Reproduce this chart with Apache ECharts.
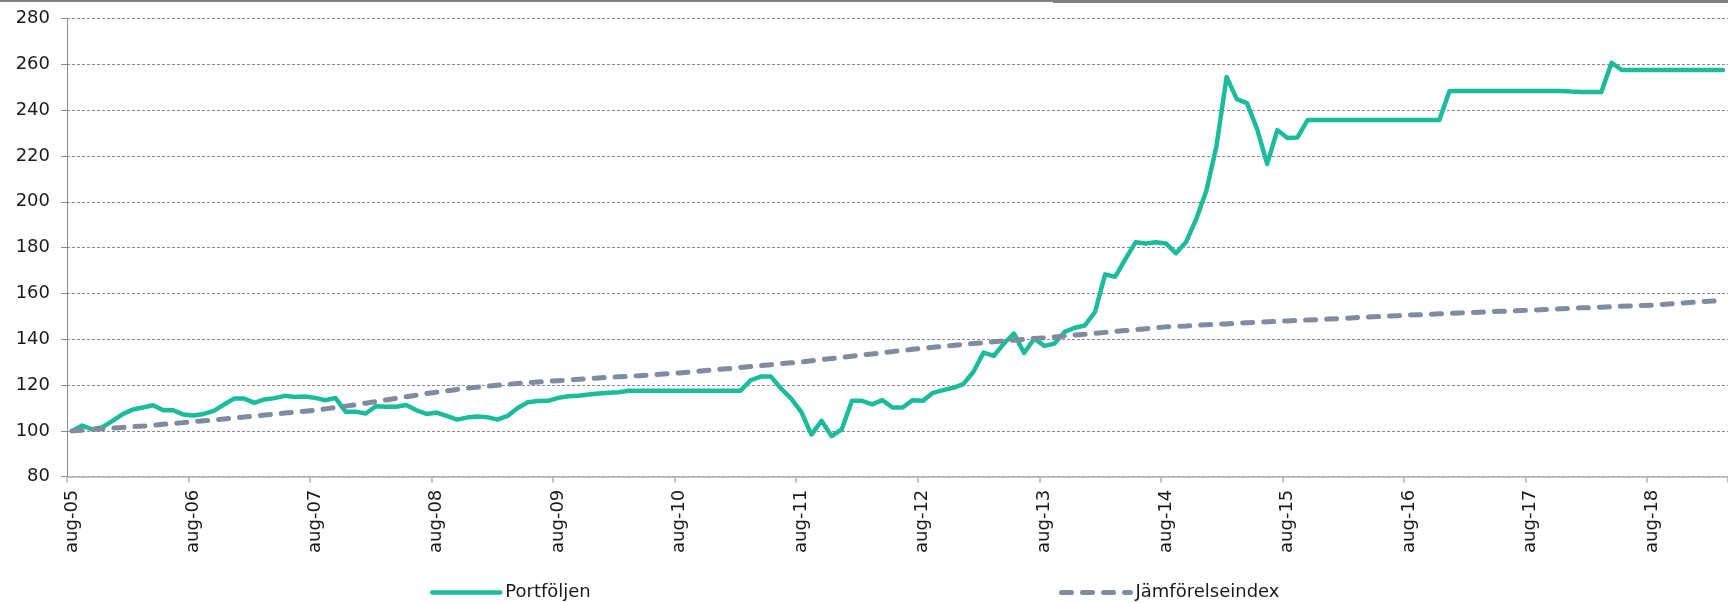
<!DOCTYPE html>
<html>
<head>
<meta charset="utf-8">
<script src="https://cdn.jsdelivr.net/npm/echarts@6/dist/echarts.min.js"></script>
<style>
html,body{margin:0;padding:0;background:#fff;}
#chart{width:1728px;height:603px;}
</style>
</head>
<body>
<div id="chart"></div>
<script>
// ---- data ----
const monthNames = ['jan','feb','mar','apr','maj','jun','jul','aug','sep','okt','nov','dec'];
const startMonth = 7;   // aug
const startYear = 2005;
const monthCount = 164; // aug-05 .. mar-19

const yTicks = [80, 100, 120, 140, 160, 180, 200, 220, 240, 260, 280];

const seriesNames = ['Portföljen', 'Jämförelseindex'];

const portfolio = [
  100.0,102.3,100.7,101.6,104.4,107.3,109.3,110.2,111.2,109.0,109.0,107.1,106.7,
  107.4,108.7,111.5,114.1,114.1,112.2,113.7,114.3,115.3,114.8,115.0,114.4,
  113.4,114.4,108.4,108.4,107.6,110.8,110.5,110.5,111.3,109.0,107.4,108.0,
  106.5,104.9,105.8,106.3,106.0,104.9,106.5,110.0,112.5,113.0,113.1,114.4,
  115.1,115.3,115.9,116.3,116.6,116.9,117.5,117.5,117.5,117.5,117.5,117.5,
  117.5,117.5,117.5,117.5,117.5,117.5,122.1,123.7,123.7,118.5,114.1,108.3,
  98.4,104.4,97.7,100.7,113.1,113.1,111.6,113.4,110.2,110.2,113.4,113.1,
  116.6,117.8,118.8,120.4,125.8,134.2,132.7,138.1,142.5,134.0,140.2,137.1,
  138.1,143.2,145.0,146.0,151.9,168.3,167.3,175.0,182.3,181.8,182.3,181.8,
  177.5,182.5,192.5,204.9,224.5,254.5,244.8,243.1,231.8,216.5,231.3,227.8,
  228.1,235.7,235.7,235.7,235.7,235.7,235.7,235.7,235.7,235.7,235.7,235.7,
  235.7,235.7,235.7,248.4,248.4,248.4,248.4,248.4,248.4,248.4,248.4,248.4,
  248.4,248.4,248.4,248.1,247.9,247.9,247.9,260.7,257.5,257.5,257.5,257.5,
  257.5,257.5,257.5,257.5,257.5,257.5,257.5
];

const benchmark = [
  100.0,100.3,100.6,100.9,101.2,101.5,101.8,102.1,102.5,102.9,103.2,103.6,104.0,
  104.4,104.8,105.2,105.6,106.1,106.5,106.9,107.3,107.8,108.2,108.6,109.0,
  109.6,110.2,110.8,111.4,112.1,112.8,113.5,114.2,114.9,115.6,116.3,116.9,
  117.5,118.1,118.6,119.1,119.5,119.9,120.3,120.7,121.0,121.3,121.6,121.9,
  122.2,122.5,122.8,123.1,123.4,123.6,123.8,124.1,124.4,124.7,125.0,125.3,
  125.7,126.1,126.5,126.9,127.3,127.7,128.1,128.5,128.9,129.3,129.7,130.1,
  130.6,131.1,131.6,132.1,132.6,133.1,133.6,134.1,134.6,135.1,135.6,136.1,
  136.5,136.9,137.3,137.7,138.1,138.5,138.9,139.3,139.6,140.0,140.3,140.6,
  141.0,141.4,141.8,142.2,142.6,143.0,143.4,143.8,144.2,144.6,145.0,145.4,
  145.6,145.8,146.1,146.3,146.5,146.7,147.0,147.2,147.4,147.6,147.8,148.0,
  148.2,148.4,148.6,148.8,149.0,149.2,149.5,149.7,149.9,150.1,150.3,150.5,
  150.7,150.9,151.1,151.3,151.5,151.6,151.8,152.0,152.2,152.3,152.5,152.7,
  152.9,153.1,153.3,153.5,153.7,153.8,154.0,154.2,154.4,154.5,154.7,154.9,
  155.2,155.5,155.8,156.1,156.4,156.7,157.0
];

// category labels (month-yy, Swedish)
const categories = [];
for (let i = 0; i < monthCount; i++) {
  const m = (startMonth + i) % 12;
  const y = startYear + Math.floor((startMonth + i) / 12);
  categories.push(monthNames[m] + '-' + String(y % 100).padStart(2, '0'));
}

// ---- chart ----
const FONT = '"DejaVu Sans", Verdana, sans-serif';
const GREEN = '#1ABC9C';
const SLATE = '#7F8BA0';
const DASH = [10, 11];
const chart = echarts.init(document.getElementById('chart'), null, {renderer: 'canvas'});

const option = {
  animation: false,
  backgroundColor: '#ffffff',
  textStyle: {fontFamily: FONT},
  grid: {left: 67, top: 18.5, bottom: 126.3, right: -5, containLabel: false},
  legend: [
    {
      data: [seriesNames[0]],
      left: 430, top: 583.5, padding: 0,
      itemWidth: 68, itemHeight: 14, itemGap: 5,
      itemStyle: {opacity: 0},
      lineStyle: {color: GREEN, width: 4.5, cap: 'round'},
      textStyle: {fontFamily: FONT, fontSize: 18, color: '#1a1a1a'}
    },
    {
      data: [seriesNames[1]],
      left: 1059, top: 583.5, padding: 0,
      itemWidth: 69, itemHeight: 14, itemGap: 5,
      itemStyle: {opacity: 0},
      lineStyle: {color: SLATE, width: 5, type: DASH, cap: 'round'},
      textStyle: {fontFamily: FONT, fontSize: 18, color: '#1a1a1a'}
    }
  ],
  xAxis: {
    type: 'category',
    data: categories,
    boundaryGap: true,
    axisLine: {show: true, lineStyle: {color: '#b3b3b3', width: 1.5}},
    axisTick: {show: true, interval: 11, length: 6, alignWithLabel: false, lineStyle: {color: '#b3b3b3', width: 1.5}},
    axisLabel: {
      interval: 11, rotate: 90, margin: 13,
      fontFamily: FONT, fontSize: 18, color: '#1a1a1a'
    },
    splitLine: {show: false}
  },
  yAxis: {
    type: 'value',
    min: yTicks[0], max: yTicks[yTicks.length - 1], interval: 20,
    axisLine: {show: true, lineStyle: {color: '#8c8c8c', width: 1}},
    axisTick: {show: true, length: 6, lineStyle: {color: '#8c8c8c', width: 1}},
    axisLabel: {margin: 17, fontFamily: FONT, fontSize: 18, color: '#1a1a1a'},
    splitLine: {show: true, lineStyle: {color: '#8a8a8a', width: 1, type: [3, 2]}}
  },
  series: [
    {
      name: seriesNames[0],
      type: 'line',
      data: portfolio,
      showSymbol: false, symbol: 'none',
      smooth: false,
      lineStyle: {color: GREEN, width: 4.5, join: 'round', cap: 'round'},
      itemStyle: {color: GREEN},
      z: 2
    },
    {
      name: seriesNames[1],
      type: 'line',
      data: benchmark,
      showSymbol: false, symbol: 'none',
      smooth: false,
      lineStyle: {color: SLATE, width: 5, type: DASH, cap: 'round', join: 'round'},
      itemStyle: {color: SLATE},
      z: 3
    }
  ],
  graphic: [
    {type: 'rect', left: 0, top: 0, shape: {width: 1053, height: 2}, style: {fill: '#808080'}, silent: true},
    {type: 'rect', left: 1053, top: 0, shape: {width: 675, height: 3}, style: {fill: '#808080'}, silent: true}
  ]
};
chart.setOption(option);
</script>
</body>
</html>
